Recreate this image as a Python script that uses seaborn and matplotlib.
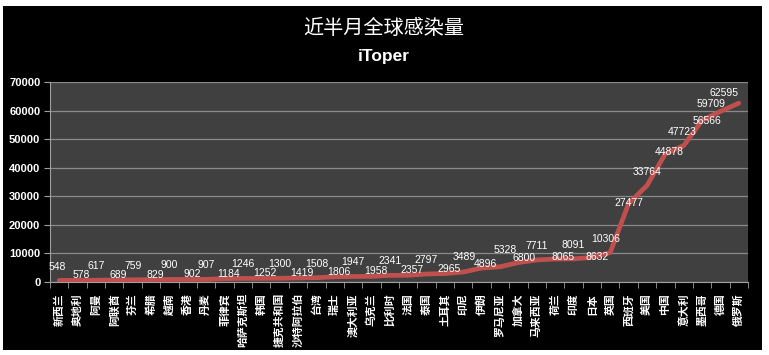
import matplotlib
matplotlib.use('Agg')
import matplotlib.pyplot as plt
import seaborn as sns
import pandas as pd
from matplotlib.patches import Rectangle

countries = ['新西兰', '奥地利', '阿曼', '阿联酋', '芬兰', '希腊', '越南', '香港', '丹麦', '菲律宾',
             '哈萨克斯坦', '韩国', '捷克共和国', '沙特阿拉伯', '台湾', '瑞士', '澳大利亚', '乌克兰', '比利时', '法国',
             '泰国', '土耳其', '印尼', '伊朗', '罗马尼亚', '加拿大', '马来西亚', '荷兰', '印度', '日本',
             '英国', '西班牙', '美国', '中国', '意大利', '墨西哥', '德国', '俄罗斯']
cases = [548, 578, 617, 689, 759, 829, 900, 902, 907, 1184,
         1246, 1252, 1300, 1419, 1508, 1806, 1947, 1958, 2341, 2357,
         2797, 2965, 3489, 4896, 5328, 6800, 7711, 8065, 8091, 8632,
         10306, 27477, 33764, 44878, 47723, 56566, 59709, 62595]
yticks = [0, 10000, 20000, 30000, 40000, 50000, 60000, 70000]

df = pd.DataFrame({'pos': range(len(countries)), 'country': countries, 'cases': cases})

sns.set_style('dark')
plt.rcParams['font.family'] = ['Noto Sans CJK SC', 'DejaVu Sans']

fig = plt.figure(figsize=(7.69, 3.55), dpi=100)
fig.patch.set_facecolor('white')
fig.patches.append(Rectangle((3 / 769, 1 - 350 / 355), 759 / 769, 344 / 355,
                             transform=fig.transFigure, facecolor='black', edgecolor='none', zorder=-10))

ax = fig.add_axes([50 / 769, 1 - 282 / 355, 698 / 769, 200 / 355])
ax.set_facecolor('#404040')

sns.lineplot(data=df, x='pos', y='cases', ax=ax, color='#c0504d', linewidth=3.4, zorder=3)

# label offsets in pixels (dx, dy up)
offsets = []
for i in range(len(cases)):
    offsets.append((0, 14) if i % 2 == 0 else (4, 5))
offsets[0] = (-2, 13)
offsets[22] = (1, 15)
offsets[23] = (4, 4)
offsets[24] = (5, 17)
offsets[25] = (6, 5)
offsets[26] = (0, 14)
offsets[27] = (8, 2)
offsets[28] = (0, 14)
offsets[29] = (5, 0)
offsets[30] = (-5, 14)
offsets[31] = (0, 0)
offsets[32] = (0, 14)
offsets[33] = (4, 2)
offsets[34] = (-2, 14)
offsets[35] = (5, -1)
offsets[36] = (-9, 7)
offsets[37] = (-15, 10)
for i, v in enumerate(cases):
    dx, dy = offsets[i]
    ax.annotate(str(v), (i, v), xytext=(dx * 0.72, dy * 0.72), textcoords='offset points',
                ha='center', va='center', color='white', fontsize=7.5, family='Liberation Sans', zorder=5)

ax.set_xlim(-0.5, len(countries) - 0.5)
ax.set_ylim(0, 70000)
ax.set_yticks(yticks)
ax.set_yticklabels([str(t) for t in yticks], color='white', fontsize=8, fontweight='bold', family='Liberation Sans')
ax.grid(axis='y', color='#8a8a8a', linewidth=0.9)
ax.grid(axis='x', visible=False)

ax.set_xticks(range(len(countries)))
ax.set_xticklabels(countries, color='white', fontsize=7.8, fontweight='bold', rotation=90,
                   ha='center', va='top')
ax.set_xticks([i - 0.5 for i in range(len(countries) + 1)], minor=True)
ax.tick_params(axis='x', which='major', length=0, pad=8)
ax.tick_params(axis='x', which='minor', length=4, color='#a0a0a0', bottom=True)
ax.tick_params(axis='y', length=4, color='#a0a0a0', left=True, pad=3)
ax.set_xlabel('')
ax.set_ylabel('')
for s in ['top', 'right']:
    ax.spines[s].set_visible(False)
ax.spines['left'].set_color('#a0a0a0')
ax.spines['bottom'].set_color('#a0a0a0')

fig.text(384 / 769, 1 - 28 / 355, '近半月全球感染量', color='white', fontsize=14.5, ha='center', va='center')
fig.text(384 / 769, 1 - 56 / 355, 'iToper', color='white', fontsize=12.5, fontweight='bold', ha='center', va='center',
         family='Liberation Sans')

fig.savefig('out.png', dpi=100, facecolor=fig.get_facecolor())
